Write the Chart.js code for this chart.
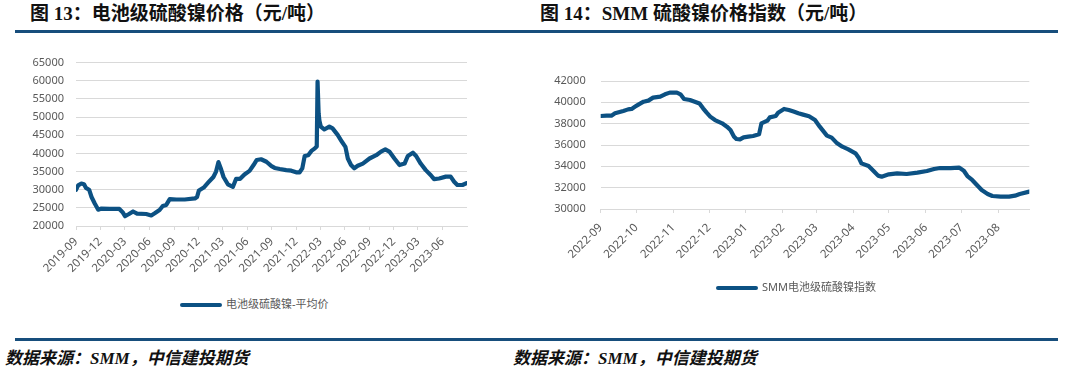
<!DOCTYPE html>
<html lang="zh">
<head>
<meta charset="UTF-8">
<title>硫酸镍价格</title>
<script src="https://cdn.jsdelivr.net/npm/chart.js@4.4.0/dist/chart.umd.min.js"></script>
<style>
  body { margin: 0; background: #fff; }
  #page { position: relative; width: 1080px; height: 369px; overflow: hidden; }
  .title { position: absolute; top: 4px; font: bold 19px/19px "Liberation Serif", "Noto Sans CJK SC", serif; color: #111; white-space: nowrap; }
  .rule { position: absolute; left: 15px; width: 1043px; height: 3px; background: #174e7c; }
  .src { position: absolute; top: 350px; font: italic bold 17px/17px "Liberation Serif", "Noto Sans CJK SC", serif; color: #111; white-space: nowrap; }
  .legend { position: absolute; font: 11px/12px "Noto Sans", "Noto Sans CJK SC", sans-serif; color: #595959; white-space: nowrap; }
  .legend span { display: inline-block; width: 42px; height: 4px; background: #0c5183; vertical-align: middle; margin-right: 4px; border-radius: 2px; }
  canvas { position: absolute; }
</style>
</head>
<body>
<div id="page">
  <div class="title" style="left:30px">图 13：电池级硫酸镍价格（元/吨）</div>
  <div class="title" style="left:540px">图 14：SMM 硫酸镍价格指数（元/吨）</div>
  <div class="rule" style="top:30px"></div>

  <canvas id="leftChart" width="540" height="230" style="left:0;top:50px"></canvas>
  <canvas id="rightChart" width="540" height="230" style="left:540px;top:50px"></canvas>

  <div class="legend" style="left:180px;top:298px"><span></span>电池级硫酸镍-平均价</div>
  <div class="legend" style="left:716px;top:281px"><span></span>SMM电池级硫酸镍指数</div>

  <div class="rule" style="top:338px"></div>
  <div class="src" style="left:5px">数据来源：SMM，中信建投期货</div>
  <div class="src" style="left:513px">数据来源：SMM，中信建投期货</div>
</div>

<script>
// 图13 电池级硫酸镍-平均价 (元/吨)
const leftDates = ['2019-09-01','2019-09-09','2019-09-21','2019-10-01','2019-10-08','2019-10-20','2019-10-29','2019-11-10','2019-11-23','2019-12-05',
  '2020-01-05','2020-02-10','2020-02-22','2020-03-02','2020-03-17','2020-04-01','2020-04-16','2020-05-20','2020-06-08','2020-06-21',
  '2020-07-09','2020-07-21','2020-08-03','2020-08-16','2020-09-10','2020-10-11','2020-11-18','2020-11-26','2020-12-03','2020-12-21',
  '2021-01-07','2021-01-26','2021-02-05','2021-02-14','2021-02-22','2021-03-05','2021-03-21','2021-04-09','2021-04-21','2021-05-06',
  '2021-05-22','2021-06-10','2021-06-25','2021-07-07','2021-07-23','2021-08-12','2021-08-31','2021-09-12','2021-10-01','2021-10-25',
  '2021-11-13','2021-12-01','2021-12-14','2021-12-24','2022-01-02','2022-01-15','2022-01-27','2022-02-09','2022-02-16','2022-02-19',
  '2022-02-23','2022-02-26','2022-03-03','2022-03-16','2022-04-04','2022-04-16','2022-05-05','2022-05-21','2022-06-03','2022-06-12',
  '2022-06-24','2022-07-06','2022-07-19','2022-08-07','2022-09-01','2022-09-26','2022-10-14','2022-10-30','2022-11-14','2022-12-03',
  '2022-12-22','2023-01-10','2023-01-22','2023-02-10','2023-02-22','2023-03-11','2023-03-30','2023-04-18','2023-04-30','2023-05-19',
  '2023-06-13','2023-07-01','2023-07-14','2023-07-26','2023-08-14','2023-08-29'];
const leftPrices = [30000,31200,31700,31500,30500,30000,28000,26200,24500,24800,
  24700,24700,23800,22700,23300,24000,23400,23300,22900,23500,
  24400,25500,25800,27400,27300,27300,27600,28000,29800,30600,
  32000,33500,35000,37600,36000,33500,31500,30800,33000,33000,
  34200,35200,36800,38200,38400,37700,36500,36000,35700,35400,
  35250,34800,34800,35900,39300,39500,40700,41400,41900,59800,
  51000,49000,47400,46600,47400,46900,45100,43200,41800,38600,
  36800,35900,36600,37200,38600,39500,40500,41100,40500,38600,
  36800,37200,39300,40200,39300,37200,35400,34000,32900,33100,
  33600,33600,32200,31300,31300,31800];
const leftTickLabels = ['2019-09','2019-12','2020-03','2020-06','2020-09','2020-12','2021-03','2021-06',
  '2021-09','2021-12','2022-03','2022-06','2022-09','2022-12','2023-03','2023-06'];

// 图14 SMM电池级硫酸镍指数
const rightDates = ['2022-09-01','2022-09-06','2022-09-10','2022-09-13','2022-09-20','2022-09-24','2022-09-27','2022-09-30','2022-10-03','2022-10-07',
  '2022-10-11','2022-10-15','2022-10-21','2022-10-25','2022-10-29','2022-11-04','2022-11-07','2022-11-10','2022-11-15','2022-11-19',
  '2022-11-23','2022-11-26','2022-11-29','2022-12-02','2022-12-06','2022-12-12','2022-12-16','2022-12-19','2022-12-22','2022-12-24',
  '2022-12-27','2022-12-30','2023-01-03','2023-01-07','2023-01-12','2023-01-14','2023-01-19','2023-01-21','2023-01-26','2023-01-28',
  '2023-02-02','2023-02-06','2023-02-10','2023-02-14','2023-02-18','2023-02-23','2023-02-28','2023-03-04','2023-03-10','2023-03-14',
  '2023-03-18','2023-03-23','2023-03-28','2023-04-03','2023-04-06','2023-04-08','2023-04-14','2023-04-18','2023-04-22','2023-04-25',
  '2023-05-01','2023-05-08','2023-05-16','2023-05-25','2023-06-02','2023-06-08','2023-06-13','2023-06-22','2023-06-29','2023-07-03',
  '2023-07-06','2023-07-10','2023-07-14','2023-07-18','2023-07-23','2023-07-27','2023-08-03','2023-08-10','2023-08-15','2023-08-19',
  '2023-08-27'];
const rightIndex = [38720,38750,38750,38970,39190,39340,39380,39600,39810,40060,
  40160,40440,40530,40750,40910,40910,40750,40310,40220,40060,
  39900,39440,39030,38660,38340,38030,37720,37410,36780,36560,
  36530,36720,36780,36840,37000,38030,38280,38590,38720,39030,
  39380,39280,39130,38970,38850,38700,38340,37720,36880,36690,
  36220,35840,35590,35220,34750,34280,34030,33590,33130,33030,
  33250,33340,33280,33410,33560,33750,33840,33840,33880,33590,
  33090,32720,32250,31780,31410,31220,31160,31160,31250,31410,
  31630];
const rightTickLabels = ['2022-09','2022-10','2022-11','2022-12','2023-01','2023-02','2023-03','2023-04',
  '2023-05','2023-06','2023-07','2023-08'];

const LINE = '#0c5183';
const GRID = '#d9d9d9';
const TXT = '#595959';

Chart.defaults.font.family = '"Noto Sans", "Noto Sans CJK SC", sans-serif';
Chart.defaults.animation = false;

// days since a start date, so the x axis behaves like a date axis
function dayNo(s, start) {
  const p = s.split('-').map(Number);
  const q = start.split('-').map(Number);
  return (Date.UTC(p[0], p[1] - 1, p[2] || 1) - Date.UTC(q[0], q[1] - 1, q[2] || 1)) / 86400000;
}

function drawChart(id, start, dates, values, tickLabels, opt) {
  const ticksAt = tickLabels.map(l => dayNo(l, start));
  return new Chart(document.getElementById(id), {
    type: 'line',
    data: {
      datasets: [{
        data: dates.map((d, i) => ({ x: dayNo(d, start), y: values[i] })),
        borderColor: LINE,
        borderWidth: 4.2,
        pointRadius: 0,
        tension: 0,
        borderJoinStyle: 'round',
        borderCapStyle: 'round'
      }]
    },
    options: {
      responsive: false,
      layout: { padding: opt.padding },
      plugins: { legend: { display: false }, tooltip: { enabled: false } },
      scales: {
        x: {
          type: 'linear',
          min: 0,
          max: opt.xMax,
          afterBuildTicks: s => { s.ticks = ticksAt.map(v => ({ value: v })); },
          afterFit: s => { s.height = opt.xHeight; },
          ticks: {
            autoSkip: false, minRotation: 45, maxRotation: 45,
            color: TXT, font: { size: 11.5 }, padding: opt.xPad,
            callback: (v, i) => tickLabels[i]
          },
          grid: { drawOnChartArea: false, drawTicks: true, tickLength: 4, color: GRID },
          border: { display: true, color: GRID, width: 1 }
        },
        y: {
          min: opt.yMin,
          max: opt.yMax,
          // fixed axis width; drop the extra top/bottom padding that tick padding adds
          afterFit: s => { s.width = opt.yWidth; s.paddingTop = 0; s.paddingBottom = 0; },
          ticks: { stepSize: opt.yStep, color: TXT, font: { size: 11 }, padding: opt.yPad, callback: v => String(v) },
          grid: { color: GRID, lineWidth: 1, drawTicks: false },
          border: { display: false }
        }
      }
    }
  });
}

drawChart('leftChart', '2019-09-01', leftDates, leftPrices, leftTickLabels, {
  padding: { top: 12.7, right: 73, left: 0, bottom: 0 },
  xMax: 1460, xHeight: 54, xPad: 5,
  yMin: 20000, yMax: 65000, yStep: 5000, yWidth: 76, yPad: 12
});

drawChart('rightChart', '2022-09-01', rightDates, rightIndex, rightTickLabels, {
  padding: { top: 31, right: 50.7, left: 0, bottom: 0 },
  xMax: 360, xHeight: 71, xPad: 8,
  yMin: 30000, yMax: 42000, yStep: 2000, yWidth: 60.7, yPad: 15
});
</script>
</body>
</html>
